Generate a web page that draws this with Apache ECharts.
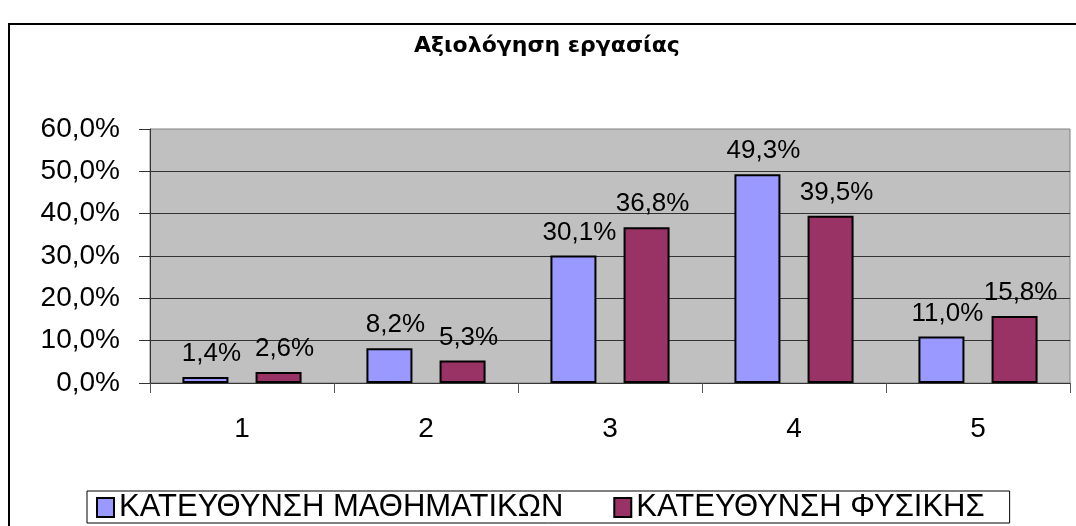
<!DOCTYPE html>
<html>
<head>
<meta charset="utf-8">
<script src="https://cdn.jsdelivr.net/npm/echarts@6/dist/echarts.min.js"></script>
<style>
html,body{margin:0;padding:0;background:#fff;}
#chart{width:1076px;height:526px;}
</style>
</head>
<body>
<div id="chart"></div>
<script>
var titleText = 'Αξιολόγηση εργασίας';
var categories = ['1', '2', '3', '4', '5'];
var seriesNames = ['ΚΑΤΕΥΘΥΝΣΗ ΜΑΘΗΜΑΤΙΚΩΝ', 'ΚΑΤΕΥΘΥΝΣΗ ΦΥΣΙΚΗΣ'];
var mathValues = [1.4, 8.2, 30.1, 49.3, 11.0];
var physValues = [2.6, 5.3, 36.8, 39.5, 15.8];
var yTickLabels = ['0,0%', '10,0%', '20,0%', '30,0%', '40,0%', '50,0%', '60,0%'];

var FONT = 'Arial, "Liberation Sans", sans-serif';
function pct(v) { return v.toFixed(1).replace('.', ',') + '%'; }

var chart = echarts.init(document.getElementById('chart'));
function barSeries(name, data, color) {
  return {
    name: name,
    type: 'bar',
    data: data,
    barWidth: 46,
    barGap: '59%',
    itemStyle: { color: color, borderColor: '#000', borderWidth: 2 },
    label: {
      show: true,
      position: 'top',
      distance: 10,
      offset: [6, 0],
      color: '#000',
      fontFamily: FONT,
      fontSize: 26,
      formatter: function (p) { return pct(p.value); }
    }
  };
}
chart.setOption({
  animation: false,
  backgroundColor: '#fff',
  title: {
    text: titleText,
    left: 414,
    top: 35,
    padding: 0,
    textStyle: { fontFamily: '"DejaVu Sans", Verdana, sans-serif', fontWeight: 'bold', fontSize: 22, color: '#000' }
  },
  graphic: [{
    type: 'rect',
    silent: true,
    shape: { x: 9, y: 24, width: 1200, height: 600 },
    style: { fill: 'none', stroke: '#000', lineWidth: 2 }
  }],
  legend: {
    data: seriesNames,
    left: 87,
    top: 491,
    padding: [1, 25, 0, 9],
    itemGap: 50,
    itemWidth: 17,
    itemHeight: 19,
    borderColor: '#000',
    borderWidth: 1,
    icon: 'rect',
    itemStyle: { borderColor: '#000', borderWidth: 2 },
    textStyle: { fontFamily: FONT, fontSize: 31, color: '#000' }
  },
  grid: {
    left: 150, right: 6, top: 129, bottom: 143,
    show: true,
    backgroundColor: '#C0C0C0',
    borderColor: '#808080',
    borderWidth: 1
  },
  xAxis: {
    type: 'category',
    data: categories,
    axisLine: { show: true, lineStyle: { color: '#333', width: 1 } },
    axisTick: { show: true, length: 10, lineStyle: { color: '#555' } },
    axisLabel: { color: '#000', fontFamily: FONT, fontSize: 28, margin: 32 }
  },
  yAxis: {
    type: 'value',
    min: 0,
    max: 60,
    interval: 10,
    axisLine: { show: true, lineStyle: { color: '#333', width: 1 } },
    axisTick: { show: true, length: 11, lineStyle: { color: '#333' } },
    splitLine: { show: true, showMaxLine: false, lineStyle: { color: '#333', width: 1 } },
    axisLabel: {
      color: '#000', fontFamily: FONT, fontSize: 28, margin: 30,
      formatter: function (v) { return yTickLabels[Math.round(v / 10)]; }
    }
  },
  series: [
    barSeries(seriesNames[0], mathValues, '#9999FF'),
    barSeries(seriesNames[1], physValues, '#993366')
  ]
});
</script>
</body>
</html>
